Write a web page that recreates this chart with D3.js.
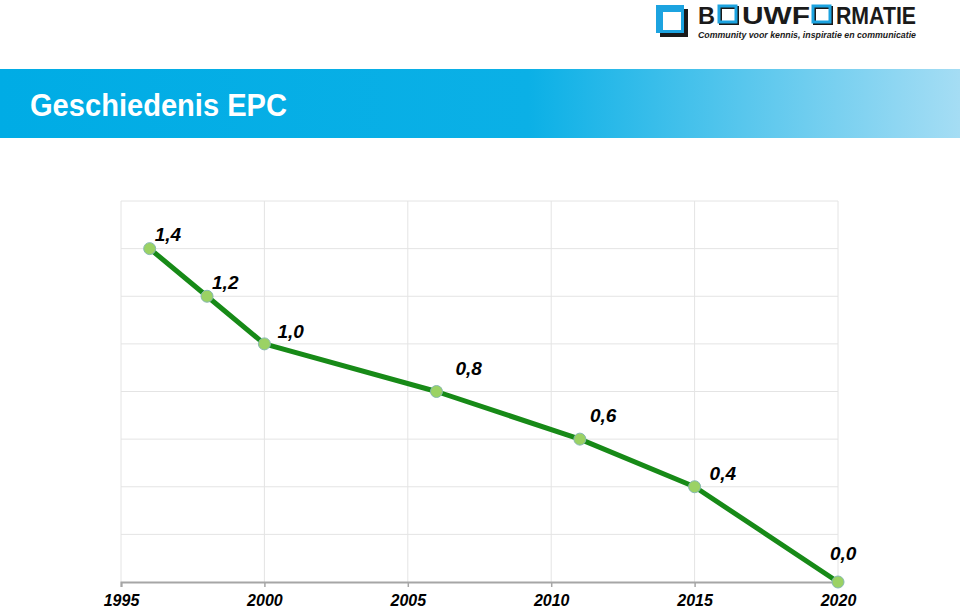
<!DOCTYPE html>
<html><head><meta charset="utf-8">
<script src="https://cdn.jsdelivr.net/npm/d3@7"></script>
<style>body{margin:0;background:#fff}svg{display:block}</style>
</head><body>
<script>
const years = [1996, 1998, 2000, 2006, 2011, 2015, 2020];
const epc = [1.4, 1.2, 1.0, 0.8, 0.6, 0.4, 0.0];
const valueLabels = ["1,4", "1,2", "1,0", "0,8", "0,6", "0,4", "0,0"];
const xTicks = [1995, 2000, 2005, 2010, 2015, 2020];
const yGrid = [0.2, 0.4, 0.6, 0.8, 1.0, 1.2, 1.4, 1.6];
const labelOffset = [[5, -8], [5, -7], [13, -6], [19, -17], [10, -17], [15, -7], [-8, -22]];

const W = 960, H = 610;
const svg = d3.select("body").append("svg").attr("width", W).attr("height", H);
const defs = svg.append("defs");
const grad = defs.append("linearGradient").attr("id", "bar").attr("x1", 0).attr("x2", 1).attr("y1", 0).attr("y2", 0);
grad.append("stop").attr("offset", "0").attr("stop-color", "#00ACE5");
grad.append("stop").attr("offset", "0.55").attr("stop-color", "#0BB0E6");
grad.append("stop").attr("offset", "1").attr("stop-color", "#A5DDF4");

// title bar
svg.append("rect").attr("x", 0).attr("y", 69).attr("width", W).attr("height", 69).attr("fill", "url(#bar)");
svg.append("text").attr("x", 30).attr("y", 116).attr("fill", "#fff")
  .attr("font-family", "Arial, 'Liberation Sans', sans-serif").attr("font-weight", "bold")
  .attr("font-size", 32).attr("textLength", 257).attr("lengthAdjust", "spacingAndGlyphs")
  .text("Geschiedenis EPC");

// logo
const logo = svg.append("g");
logo.append("rect").attr("x", 660).attr("y", 9).attr("width", 28).attr("height", 28).attr("fill", "#1a1a1a");
logo.append("rect").attr("x", 656).attr("y", 5).attr("width", 28).attr("height", 28).attr("fill", "#1CA3E0");
logo.append("rect").attr("x", 663).attr("y", 12).attr("width", 18).attr("height", 18).attr("fill", "#fff");
function square(x) {
  logo.append("rect").attr("x", x + 1.5).attr("y", 7.5).attr("width", 17).attr("height", 16).attr("fill", "none").attr("stroke", "#1a1a1a").attr("stroke-width", 3);
  logo.append("rect").attr("x", x).attr("y", 6).attr("width", 17).attr("height", 16).attr("fill", "none").attr("stroke", "#1CA3E0").attr("stroke-width", 3);
}
const lf = "Arial, 'Liberation Sans', sans-serif";
function ltext(x, s, w) {
  logo.append("text").attr("x", x).attr("y", 24).attr("font-family", lf).attr("font-weight", "bold")
    .attr("font-size", 24).attr("fill", "#1a1a1a").attr("textLength", w).attr("lengthAdjust", "spacingAndGlyphs").text(s);
}
ltext(698, "B", 17);
square(719);
ltext(742, "UWF", 68);
square(813);
ltext(836, "RMATIE", 80);
logo.append("text").attr("x", 698).attr("y", 37.5).attr("font-family", lf).attr("font-weight", "bold").attr("font-style", "italic")
  .attr("font-size", 9.5).attr("fill", "#1a1a1a").attr("textLength", 218).attr("lengthAdjust", "spacingAndGlyphs")
  .text("Community voor kennis, inspiratie en communicatie");

// chart
const x = d3.scaleLinear().domain([1995, 2020]).range([121, 838]);
const y = d3.scaleLinear().domain([0, 1.6]).range([582, 201]);
const g = svg.append("g");

g.selectAll(".hg").data(yGrid).enter().append("line")
  .attr("x1", x(1995)).attr("x2", x(2020)).attr("y1", d => y(d)).attr("y2", d => y(d))
  .attr("stroke", "#E4E4E4").attr("stroke-width", 1);
g.selectAll(".vg").data(xTicks).enter().append("line")
  .attr("x1", d => x(d)).attr("x2", d => x(d)).attr("y1", y(0)).attr("y2", y(1.6))
  .attr("stroke", "#E4E4E4").attr("stroke-width", 1);

const xAxis = d3.axisBottom(x).tickValues(xTicks).tickFormat(d3.format("d")).tickSize(5).tickPadding(10);
const ax = g.append("g").attr("transform", `translate(0,${y(0)})`).call(xAxis);
ax.select(".domain").attr("stroke", "#A6A6A6").attr("stroke-width", 2);
ax.selectAll(".tick line").attr("stroke", "#A6A6A6").attr("stroke-width", 1.5);
ax.selectAll(".tick text").attr("font-family", lf).attr("font-weight", "bold").attr("font-style", "italic")
  .attr("font-size", 16).attr("fill", "#000").attr("dy", "0").attr("y", 24);

const pts = years.map((yr, i) => [yr, epc[i]]);
g.append("path").datum(pts).attr("fill", "none").attr("stroke", "#178A17").attr("stroke-width", 5)
  .attr("stroke-linejoin", "round")
  .attr("d", d3.line().x(d => x(d[0])).y(d => y(d[1])));
g.selectAll(".pt").data(pts).enter().append("circle")
  .attr("cx", d => x(d[0])).attr("cy", d => y(d[1])).attr("r", 6)
  .attr("fill", "#9BD264").attr("stroke", "#86B8B0").attr("stroke-width", 1);
g.selectAll(".lbl").data(pts).enter().append("text")
  .attr("x", (d, i) => x(d[0]) + labelOffset[i][0]).attr("y", (d, i) => y(d[1]) + labelOffset[i][1])
  .attr("font-family", lf).attr("font-weight", "bold").attr("font-style", "italic").attr("font-size", 19)
  .attr("fill", "#000").text((d, i) => valueLabels[i]);
</script>
</body></html>
